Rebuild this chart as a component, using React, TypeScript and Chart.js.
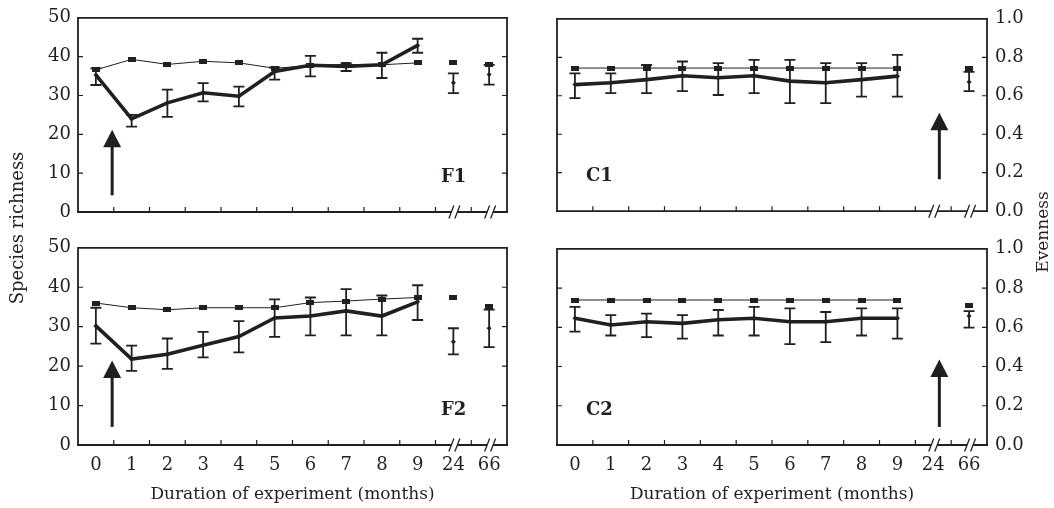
import React, { useEffect, useRef } from 'react';
import { Chart, registerables } from 'chart.js';

Chart.register(...registerables);

// ---------- data ----------
const months = ['0', '1', '2', '3', '4', '5', '6', '7', '8', '9', '24', '66'];

// F1 (left axis: species richness, right axis: evenness)
const f1Richness = [35.3, 24.0, 28.1, 30.7, 29.8, 36.2, 37.8, 37.5, 37.9, 42.9, 33.3, 35.4];
const f1RichnessLow = [32.7, 22.0, 24.5, 28.5, 27.2, 34.1, 34.9, 36.3, 34.5, 41.0, 30.6, 32.8];
const f1RichnessHigh = [37.0, 25.0, 31.5, 33.2, 32.3, 37.2, 40.2, 38.3, 41.0, 44.6, 35.7, 37.9];
const f1Evenness = [0.732, 0.786, 0.76, 0.776, 0.768, 0.74, 0.754, 0.76, 0.758, 0.768, 0.768, 0.758];

// F2
const f2Richness = [30.2, 21.8, 23.0, 25.3, 27.5, 32.2, 32.7, 34.0, 32.7, 36.3, 26.2, 29.6];
const f2RichnessLow = [25.7, 18.8, 19.3, 22.2, 23.5, 27.4, 27.8, 27.8, 27.8, 31.7, 23.0, 24.8];
const f2RichnessHigh = [34.8, 25.2, 27.0, 28.7, 31.4, 36.9, 37.4, 39.5, 37.9, 40.5, 29.6, 34.3];
const f2Evenness = [0.72, 0.696, 0.686, 0.696, 0.696, 0.696, 0.722, 0.73, 0.74, 0.748, 0.748, 0.702];

// C1
const c1Richness = [32.9, 33.4, 34.2, 35.2, 34.7, 35.2, 33.8, 33.4, 34.2, 35.1, null, 33.6];
const c1RichnessLow = [29.4, 30.7, 30.7, 31.2, 30.2, 30.7, 28.1, 28.1, 29.8, 29.8, null, 31.2];
const c1RichnessHigh = [35.8, 35.8, 38.0, 38.9, 38.5, 39.3, 39.3, 38.5, 38.5, 40.6, null, 36.2];
const c1Evenness = [0.744, 0.744, 0.744, 0.744, 0.744, 0.744, 0.744, 0.744, 0.744, 0.744, null, 0.744];

// C2
const c2Richness = [32.3, 30.6, 31.4, 31.0, 31.9, 32.3, 31.4, 31.4, 32.3, 32.3, null, 32.9];
const c2RichnessLow = [28.9, 27.9, 27.5, 27.1, 27.9, 27.9, 25.7, 26.2, 27.9, 27.1, null, 29.9];
const c2RichnessHigh = [35.2, 33.1, 33.5, 33.1, 34.4, 35.2, 34.8, 33.9, 34.8, 34.8, null, 34.1];
const c2Evenness = [0.739, 0.739, 0.739, 0.739, 0.739, 0.739, 0.739, 0.739, 0.739, 0.739, null, 0.712];

// ---------- styling ----------
const INK = '#231f20';
const FONT = '"DejaVu Serif", serif';
const FS = 18;
const TITLE_FS = 17;
const LAST_CONNECTED = 9;

type Num = number | null;
type Panel = {
  id: string;
  label: string;
  side: 'left' | 'right';
  bottom: boolean;
  box: { left: number; top: number; w: number; h: number };
  pad: { left: number; right: number; top: number };
  rich: Num[];
  lo: Num[];
  hi: Num[];
  even: Num[];
  arrow: { cat: number; shift: number; tip: number; base: number };
};

const PANELS: Panel[] = [
  {
    id: 'F1', label: 'F1', side: 'left', bottom: false,
    box: { left: 0, top: 0, w: 530, h: 230 }, pad: { left: 0, right: 23, top: 14 },
    rich: f1Richness, lo: f1RichnessLow, hi: f1RichnessHigh, even: f1Evenness,
    arrow: { cat: 0, shift: 0.455, tip: 21.2, base: 4.3 },
  },
  {
    id: 'C1', label: 'C1', side: 'right', bottom: false,
    box: { left: 530, top: 0, w: 524, h: 230 }, pad: { left: 27, right: 0, top: 14 },
    rich: c1Richness, lo: c1RichnessLow, hi: c1RichnessHigh, even: c1Evenness,
    arrow: { cat: 10, shift: 0.17, tip: 25.6, base: 8.3 },
  },
  {
    id: 'F2', label: 'F2', side: 'left', bottom: true,
    box: { left: 0, top: 230, w: 530, h: 278 }, pad: { left: 0, right: 23, top: 15 },
    rich: f2Richness, lo: f2RichnessLow, hi: f2RichnessHigh, even: f2Evenness,
    arrow: { cat: 0, shift: 0.455, tip: 21.4, base: 4.6 },
  },
  {
    id: 'C2', label: 'C2', side: 'right', bottom: true,
    box: { left: 530, top: 230, w: 524, h: 278 }, pad: { left: 27, right: 0, top: 15 },
    rich: c2Richness, lo: c2RichnessLow, hi: c2RichnessHigh, even: c2Evenness,
    arrow: { cat: 10, shift: 0.17, tip: 21.8, base: 4.6 },
  },
];

function makeRectMarker(w: number, h: number) {
  const c = document.createElement('canvas');
  c.width = w;
  c.height = h;
  const g = c.getContext('2d')!;
  g.fillStyle = INK;
  g.fillRect(0, 0, w, h);
  return c;
}

function makePlugin(p: Panel) {
  return {
    id: 'deco' + p.id,
    afterDatasetsDraw(chart: any) {
      const ctx = chart.ctx as CanvasRenderingContext2D;
      const x = chart.scales.x;
      const y = chart.scales.y;
      ctx.save();
      ctx.strokeStyle = INK;
      ctx.lineWidth = 1.8;
      p.rich.forEach((v, i) => {
        const lo = p.lo[i];
        const hi = p.hi[i];
        if (v == null || lo == null || hi == null) return;
        const px = x.getPixelForValue(i);
        const yl = y.getPixelForValue(lo);
        const yh = y.getPixelForValue(hi);
        ctx.beginPath();
        ctx.moveTo(px, yl);
        ctx.lineTo(px, yh);
        ctx.moveTo(px - 5.5, yl);
        ctx.lineTo(px + 5.5, yl);
        ctx.moveTo(px - 5.5, yh);
        ctx.lineTo(px + 5.5, yh);
        ctx.stroke();
      });
      ctx.restore();
    },
    afterDraw(chart: any) {
      const ctx = chart.ctx as CanvasRenderingContext2D;
      const { left: L, right: R, top: T, bottom: B } = chart.chartArea;
      const x = chart.scales.x;
      const y = chart.scales.y;
      const tickAxis = p.side === 'left' ? chart.scales.y : chart.scales.y1;
      ctx.save();
      ctx.strokeStyle = INK;
      ctx.fillStyle = INK;
      ctx.lineCap = 'square';
      ctx.lineWidth = 1.8;
      // frame (top, left, right)
      ctx.beginPath();
      ctx.moveTo(L, B);
      ctx.lineTo(L, T);
      ctx.lineTo(R, T);
      ctx.lineTo(R, B);
      ctx.stroke();
      // bottom axis with breaks
      const breaks = [10, 11].map((k) => x.getPixelForValue(k) + 1);
      ctx.lineCap = 'butt';
      ctx.beginPath();
      let start = L - 0.9;
      breaks.forEach((c) => {
        ctx.moveTo(start, B);
        ctx.lineTo(c - 3, B);
        start = c + 3;
      });
      ctx.moveTo(start, B);
      ctx.lineTo(R + 0.9, B);
      ctx.stroke();
      ctx.lineWidth = 1.3;
      ctx.beginPath();
      breaks.forEach((c) => {
        [c - 3, c + 3].forEach((s) => {
          ctx.moveTo(s - 2.5, B + 6.5);
          ctx.lineTo(s + 2.5, B - 6.5);
        });
      });
      ctx.stroke();
      // inner ticks
      ctx.lineWidth = 1.2;
      ctx.beginPath();
      tickAxis.ticks.forEach((t: any) => {
        if (t.value <= tickAxis.min || t.value >= tickAxis.max) return;
        const py = tickAxis.getPixelForValue(t.value);
        ctx.moveTo(L, py);
        ctx.lineTo(L + 5, py);
        ctx.moveTo(R - 5, py);
        ctx.lineTo(R, py);
      });
      for (let k = 1; k < months.length; k++) {
        const bx = (x.getPixelForValue(k - 1) + x.getPixelForValue(k)) / 2;
        ctx.moveTo(bx, B);
        ctx.lineTo(bx, B - 5);
      }
      ctx.stroke();
      // arrow
      const step = x.getPixelForValue(1) - x.getPixelForValue(0);
      const ax = x.getPixelForValue(p.arrow.cat) + p.arrow.shift * step;
      const tipY = y.getPixelForValue(p.arrow.tip);
      const baseY = y.getPixelForValue(p.arrow.base);
      const headH = 17.5;
      ctx.lineWidth = 3;
      ctx.beginPath();
      ctx.moveTo(ax, baseY);
      ctx.lineTo(ax, tipY + headH - 1);
      ctx.stroke();
      ctx.beginPath();
      ctx.moveTo(ax, tipY);
      ctx.lineTo(ax - 9, tipY + headH);
      ctx.lineTo(ax + 9, tipY + headH);
      ctx.closePath();
      ctx.fill();
      // panel label
      ctx.font = `bold 18px ${FONT}`;
      ctx.textAlign = 'left';
      ctx.textBaseline = 'alphabetic';
      const lx = p.side === 'left' ? R - 66 : L + 29;
      ctx.fillText(p.label, lx, B - 30);
      ctx.restore();
    },
  };
}

function buildConfig(p: Panel, square: HTMLCanvasElement): any {
  const hideTail = (ctx: any) => (ctx.p1DataIndex > LAST_CONNECTED ? 'rgba(0,0,0,0)' : INK);
  const tickFont = { family: FONT, size: FS };
  return {
    type: 'line',
    data: {
      labels: months,
      datasets: [
        {
          label: 'Evenness',
          data: p.even,
          yAxisID: 'y1',
          borderColor: INK,
          borderWidth: 1,
          pointStyle: square,
          pointRadius: 4,
          pointBackgroundColor: INK,
          pointBorderWidth: 0,
          spanGaps: false,
          segment: { borderColor: hideTail },
        },
        {
          label: 'Species richness',
          data: p.rich,
          yAxisID: 'y',
          borderColor: INK,
          borderWidth: 3.6,
          pointStyle: 'rectRot',
          pointRadius: 2.5,
          pointBackgroundColor: INK,
          pointBorderColor: INK,
          pointBorderWidth: 0,
          spanGaps: false,
          segment: { borderColor: hideTail },
        },
      ],
    },
    options: {
      responsive: false,
      animation: false,
      layout: { padding: { left: p.pad.left, right: p.pad.right, top: p.pad.top, bottom: 0 } },
      plugins: { legend: { display: false }, tooltip: { enabled: false } },
      scales: {
        x: {
          type: 'category',
          offset: true,
          grid: { display: false, drawTicks: false, offset: true },
          border: { display: false },
          ticks: {
            display: p.bottom,
            color: INK,
            font: tickFont,
            padding: 10,
            maxRotation: 0,
            autoSkip: false,
          },
          title: {
            display: p.bottom,
            text: 'Duration of experiment (months)',
            color: INK,
            font: { family: FONT, size: TITLE_FS },
            padding: { top: 0, bottom: 3 },
          },
          afterFit: (s: any) => {
            s.height = p.bottom ? 63 : 18;
          },
        },
        y: {
          position: 'left',
          display: p.side === 'left',
          min: 0,
          max: 50,
          grid: { display: false, drawTicks: false },
          border: { display: false },
          ticks: { stepSize: 10, color: INK, font: tickFont, padding: 7 },
          afterFit: (s: any) => {
            if (p.side === 'left') s.width = 78;
          },
        },
        y1: {
          position: 'right',
          display: p.side === 'right',
          min: 0,
          max: 1,
          grid: { display: false, drawTicks: false },
          border: { display: false },
          ticks: {
            stepSize: 0.2,
            color: INK,
            font: tickFont,
            padding: 8,
            callback: (v: any) => Number(v).toFixed(1),
          },
          afterFit: (s: any) => {
            if (p.side === 'right') s.width = 67;
          },
        },
      },
    },
    plugins: [makePlugin(p)],
  };
}

function VTitle({ text, cx, cy, size }: { text: string; cx: number; cy: number; size: number }) {
  return (
    <div
      style={{
        position: 'absolute',
        left: cx - 120,
        top: cy - 12,
        width: 240,
        height: 24,
        lineHeight: '24px',
        textAlign: 'center',
        transform: 'rotate(-90deg)',
        fontFamily: FONT,
        fontSize: size,
        color: INK,
        whiteSpace: 'nowrap',
      }}
    >
      {text}
    </div>
  );
}

export default function App() {
  const canvasRefs = useRef<(HTMLCanvasElement | null)[]>([]);
  useEffect(() => {
    const square = makeRectMarker(8, 5);
    const charts = PANELS.map((p, i) => new Chart(canvasRefs.current[i]!, buildConfig(p, square)));
    return () => charts.forEach((c) => c.destroy());
  }, []);
  return (
    <div style={{ position: 'absolute', left: 0, top: 0, width: 1054, height: 508, background: '#fff', overflow: 'hidden' }}>
      {PANELS.map((p, i) => (
        <canvas
          key={p.id}
          ref={(el) => {
            canvasRefs.current[i] = el;
          }}
          width={p.box.w}
          height={p.box.h}
          style={{ position: 'absolute', left: p.box.left, top: p.box.top, width: p.box.w, height: p.box.h }}
        />
      ))}
      <VTitle text="Species richness" cx={17} cy={228} size={18} />
      <VTitle text="Evenness" cx={1042} cy={232} size={17} />
    </div>
  );
}
